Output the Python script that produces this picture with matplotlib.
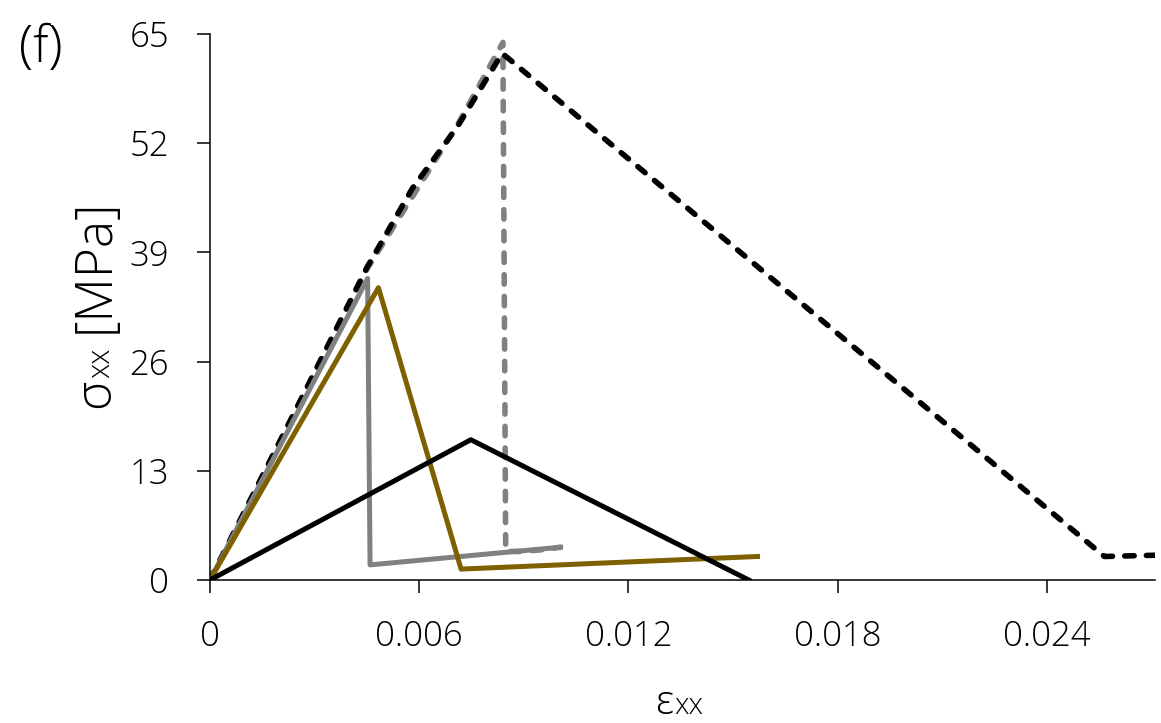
import numpy as np
import matplotlib
matplotlib.use("Agg")
import matplotlib.pyplot as plt

plt.rcParams['font.family'] = ['Open Sans', 'DejaVu Sans']
plt.rcParams['font.weight'] = 'light'

# strain / stress curves
dash_black_x = [0, 0.0025, 0.0045, 0.0058, 0.0071, 0.00838, 0.02565, 0.0276]
dash_black_y = [0, 20.6, 37.2, 46.6, 54.0, 62.7, 2.8, 3.0]

dash_gray_x = [0, 0.0045, 0.0071, 0.0084, 0.00848, 0.0090, 0.0095, 0.01005]
dash_gray_y = [0, 37.0, 54.2, 64.0, 3.4, 3.4, 3.6, 3.9]

gray_x = [0, 0.00452, 0.00459, 0.01005]
gray_y = [0, 35.9, 1.8, 3.9]

olive_x = [0, 0.00483, 0.0072, 0.0157]
olive_y = [0, 34.8, 1.3, 2.8]

black_x = [0, 0.00748, 0.01545]
black_y = [0, 16.7, 0]

xticks = [0, 0.006, 0.012, 0.018, 0.024]
xlabels = ['0', '0.006', '0.012', '0.018', '0.024']
yticks = [0, 13, 26, 39, 52, 65]

W, H = 1161, 723
fig = plt.figure(figsize=(W / 100, H / 100), dpi=100)
ax = fig.add_axes([210 / W, 1 - 580 / H, 945 / W, 546 / H])

lw = 3.6
dlw = 4.0
dsh = (1.7, 2.2)
ax.plot(dash_gray_x, dash_gray_y, color='#808080', lw=dlw, dashes=dsh,
        dash_capstyle='round')
ax.plot(dash_black_x, dash_black_y, color='black', lw=dlw, dashes=dsh,
        dash_capstyle='round')
ax.plot(gray_x, gray_y, color='#808080', lw=lw)
ax.plot(olive_x, olive_y, color='#7F6000', lw=lw)
ax.plot(black_x, black_y, color='black', lw=lw)

ax.set_xlim(0, 0.0271)
ax.set_ylim(0, 65)
ax.set_xticks(xticks)
ax.set_xticklabels(xlabels)
ax.set_yticks(yticks)
ax.tick_params(axis='both', direction='out', length=9.5, width=1.1,
               labelsize=25, color='black')
ax.tick_params(axis='y', pad=20)
ax.tick_params(axis='x', pad=19)
for s in ['top', 'right']:
    ax.spines[s].set_visible(False)
for s in ['left', 'bottom']:
    ax.spines[s].set_linewidth(1.1)

# axis labels built from pieces so the "xx" part is smaller
def px(x, y):
    return x / W, 1 - y / H

fig.text(*px(655, 714), 'ε', fontsize=29, ha='left', va='baseline')
fig.text(*px(674, 714), 'xx', fontsize=21, ha='left', va='baseline')

kw = dict(rotation=90, rotation_mode='anchor', ha='left', va='baseline')
fig.text(*px(109, 408), 'σ', fontsize=36, **kw)
fig.text(*px(109, 378), 'xx', fontsize=22, **kw)
fig.text(*px(109, 333), '[MPa]', fontsize=37, **kw)

fig.text(*px(19, 62), '(f)', fontsize=37, ha='left', va='baseline')

fig.savefig('out.png', dpi=100)
